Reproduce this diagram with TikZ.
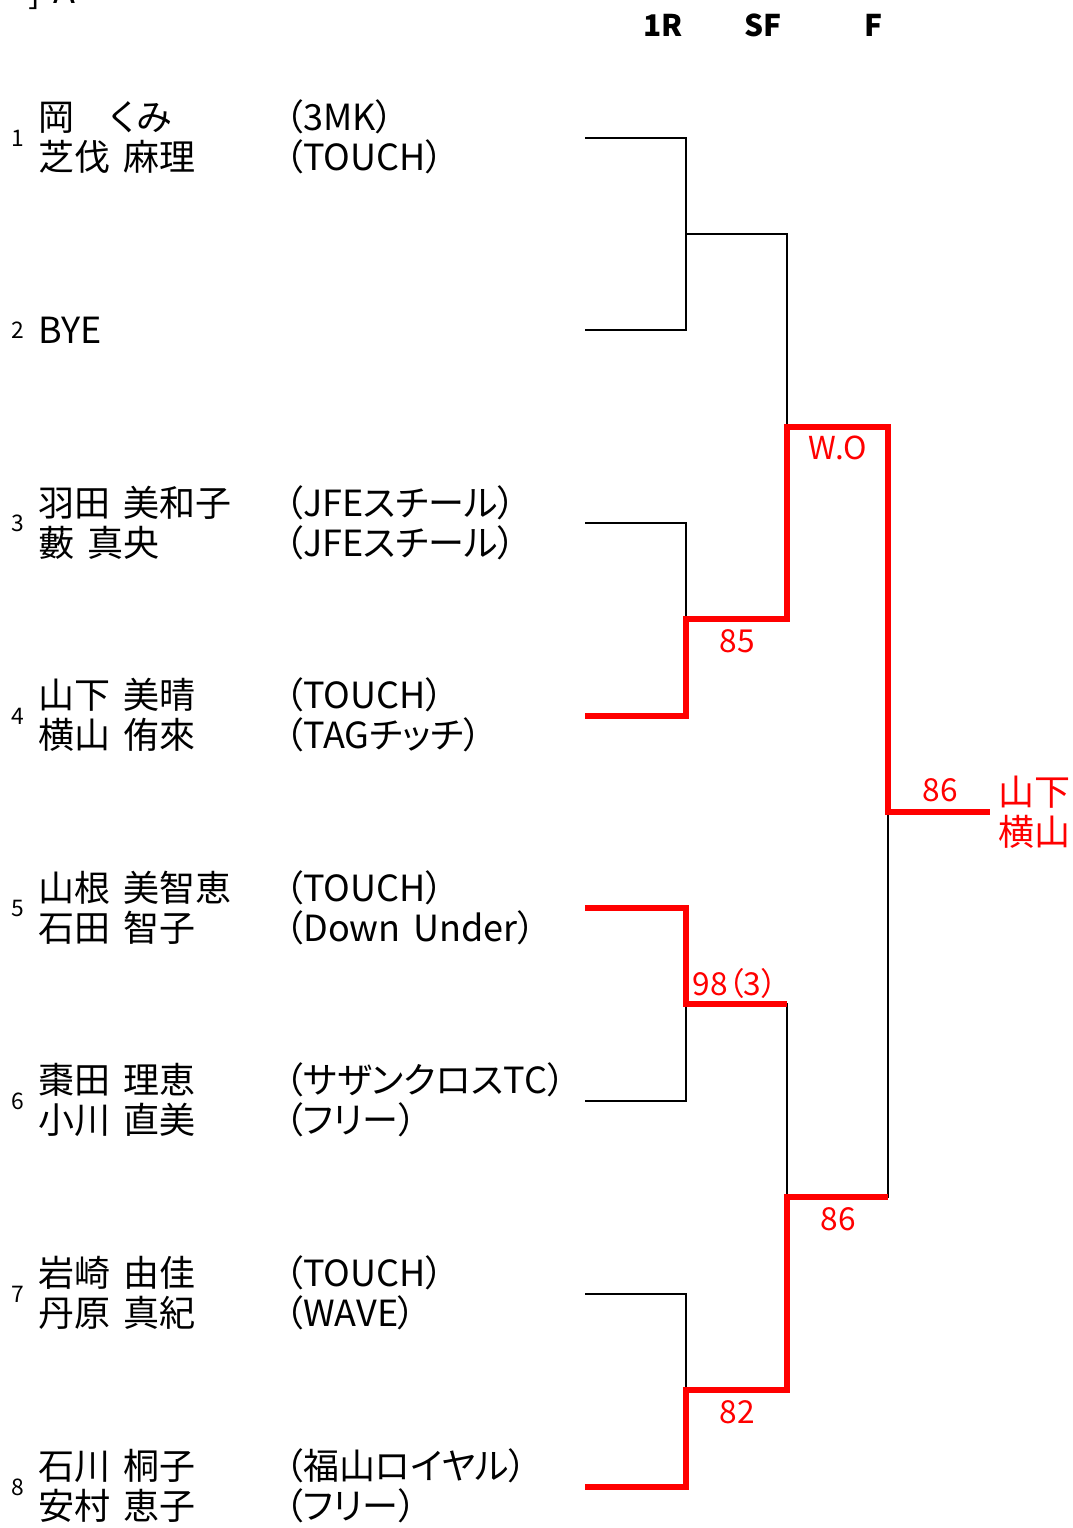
\documentclass[tikz,border=0pt]{standalone}
\usepackage{fontspec}
\setmainfont{Noto Sans CJK JP}[RawFeature=+palt,WordSpace=1.6]
\usepackage{tikz}
\newcommand{\namesize}{\fontsize{20.5pt}{24pt}\selectfont}
\newcommand{\seedsize}{\fontsize{13pt}{15pt}\selectfont}
\newcommand{\scoresize}{\fontsize{18pt}{22pt}\selectfont}
\newcommand{\headsize}{\fontsize{17pt}{20pt}\selectfont\bfseries}
\newcommand{\blocktitle}{] A}

\begin{document}
\begin{tikzpicture}[x=0.02cm,y=-0.02cm,
	black line/.style={line width=1.1pt},
	red line/.style={line width=3.2pt,red},
	player/.style={anchor=west,inner sep=0pt,font=\namesize},
	seednum/.style={anchor=center,inner sep=0pt,font=\seedsize},
	score/.style={anchor=center,inner sep=0pt,font=\scoresize,red},
	roundhead/.style={anchor=center,inner sep=0pt,font=\headsize}]
			\useasboundingbox (0,0) rectangle (1072,1528);
			% title (cut at the top)
			\node[player] (title) at (28,-8) {\blocktitle};
			% rounds
			\node[roundhead] (h1) at (663,25) {1R};
			\node[roundhead] (h2) at (763,25) {SF};
			\node[roundhead] (h3) at (874,25) {F};
			% players
			\node[seednum] (n1) at (18,138) {1};
			\node[player] (p1a) at (38,117) {岡　くみ};
			\node[player] (p1b) at (38,157) {芝伐 麻理};
			\node[player] (c1a) at (285,117) {（3MK）};
			\node[player] (c1b) at (285,157) {（TOUCH）};
			
			\node[seednum] (n2) at (18,330) {2};
			\node[player] (p2a) at (38,330) {BYE};
			
			\node[seednum] (n3) at (18,523) {3};
			\node[player] (p3a) at (38,503) {羽田 美和子};
			\node[player] (p3b) at (38,543) {藪 真央};
			\node[player] (c3a) at (285,503) {（JFEスチール）};
			\node[player] (c3b) at (285,543) {（JFEスチール）};
			
			\node[seednum] (n4) at (18,716) {4};
			\node[player] (p4a) at (38,695) {山下 美晴};
			\node[player] (p4b) at (38,735) {横山 侑來};
			\node[player] (c4a) at (285,695) {（TOUCH）};
			\node[player] (c4b) at (285,735) {（TAGチッチ）};
			
			\node[seednum] (n5) at (18,908) {5};
			\node[player] (p5a) at (38,888) {山根 美智恵};
			\node[player] (p5b) at (38,928) {石田 智子};
			\node[player] (c5a) at (285,888) {（TOUCH）};
			\node[player] (c5b) at (285,928) {（Down Under）};
			
			\node[seednum] (n6) at (18,1101) {6};
			\node[player] (p6a) at (38,1080) {棗田 理恵};
			\node[player] (p6b) at (38,1120) {小川 直美};
			\node[player] (c6a) at (285,1080) {（サザンクロスTC）};
			\node[player] (c6b) at (285,1120) {（フリー）};
			
			\node[seednum] (n7) at (18,1294) {7};
			\node[player] (p7a) at (38,1273) {岩崎 由佳};
			\node[player] (p7b) at (38,1313) {丹原 真紀};
			\node[player] (c7a) at (285,1273) {（TOUCH）};
			\node[player] (c7b) at (285,1313) {（WAVE）};
			
			\node[seednum] (n8) at (18,1487) {8};
			\node[player] (p8a) at (38,1466) {石川 桐子};
			\node[player] (p8b) at (38,1506) {安村 恵子};
			\node[player] (c8a) at (285,1466) {（福山ロイヤル）};
			\node[player] (c8b) at (285,1506) {（フリー）};
			% bracket points
			\coordinate (e1) at (585,138);
			\coordinate (e2) at (585,330);
			\coordinate (e3) at (585,523);
			\coordinate (e4) at (585,716);
			\coordinate (e5) at (585,908);
			\coordinate (e6) at (585,1101);
			\coordinate (e7) at (585,1294);
			\coordinate (e8) at (585,1487);
			\coordinate (m1) at (686,234);
			\coordinate (m2) at (686,619);
			\coordinate (m3) at (686,1004);
			\coordinate (m4) at (686,1390);
			\coordinate (s1) at (787,427);
			\coordinate (s2) at (787,1197);
			\coordinate (f) at (888,812);
			\coordinate (w) at (990,812);
			% lines lost
			\draw[black line] (e1) -| (m1) |- (e2);
			\draw[black line] (m1) -| (s1);
			\draw[black line] (e3) -| (m2);
			\draw[black line] (e6) -| (m3);
			\draw[black line] (m3) -| (s2);
			\draw[black line] (e7) -| (m4);
			\draw[black line] (s2) -| (f);
			% winning lines
			\draw[red line] (e4) -| (m2) -| (s1) -| (f) -- (w);
			\draw[red line] (e5) -| (m3) -- (m3 -| s2);
			\draw[red line] (e8) -| (m4) -| (s2) -- (s2 -| f);
			% scores
			\node[score] (r1) at (838,448) {W.O};
			\node[score] (r2) at (737,641) {85};
			\node[score] (r3) at (735,983) {98（3）};
			\node[score] (r4) at (737,1412) {82};
			\node[score] (r5) at (838,1219) {86};
			\node[score] (r6) at (940,790) {86};
			\node[player,red] (champ1) at (998,792) {山下};
			\node[player,red] (champ2) at (998,832) {横山};
		\end{tikzpicture}
\end{document}
